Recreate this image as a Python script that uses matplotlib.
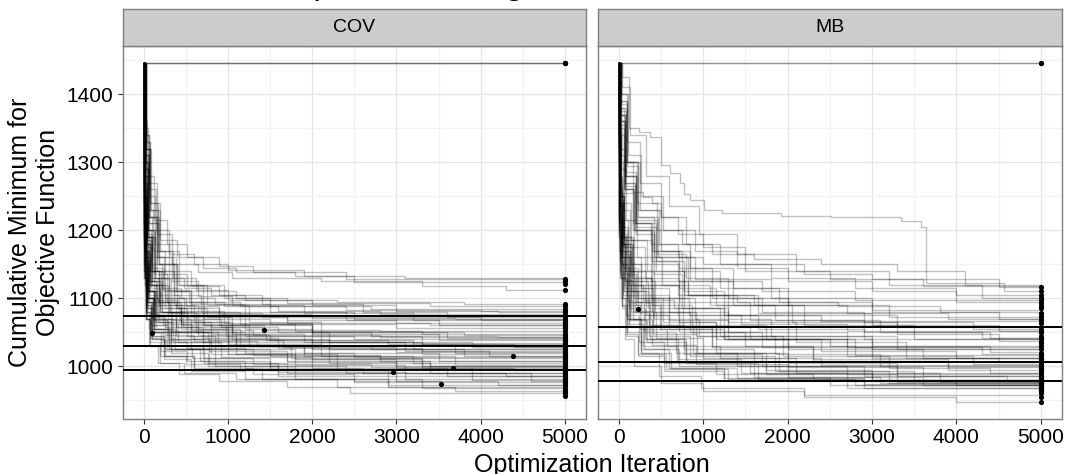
import matplotlib
matplotlib.use("Agg")
import matplotlib.pyplot as plt
from matplotlib.ticker import MultipleLocator

plt.rcParams['font.family'] = ['Liberation Sans', 'DejaVu Sans']

# cumulative minimum per run, (iteration, value) change points, COV
cov_runs = [
    [(0,1446),(5000,1446)],
    [(0,1446),(5000,1446)],
    [(0,1446),(5000,1446)],
    [(0,1446),(25,1340),(60,1260),(150,1200),(300,1165),(600,1150),(1000,1142),(1900,1133),(3100,1130),(5000,1129)],
    [(0,1446),(15,1360),(45,1280),(120,1215),(280,1180),(520,1160),(900,1148),(1300,1138),(2400,1128),(5000,1125)],
    [(0,1446),(30,1320),(85,1230),(200,1185),(400,1160),(700,1145),(1100,1138),(1800,1133),(2500,1124),(5000,1121)],
    [(0,1446),(20,1350),(55,1270),(160,1195),(340,1150),(650,1138),(1050,1130),(2100,1126),(3300,1118),(4300,1112),(5000,1112)],
    [(0,1446),(12,1300),(38,1220),(100,1160),(240,1130),(480,1115),(800,1105),(1200,1098),(2300,1094),(3800,1092),(5000,1092)],
    [(0,1446),(22,1320),(70,1210),(180,1150),(400,1120),(700,1110),(1100,1100),(1700,1093),(3400,1088),(5000,1088)],
    [(0,1446),(10,1280),(35,1200),(90,1150),(220,1115),(450,1100),(850,1092),(1500,1088),(2700,1084),(5000,1084)],
    [(0,1446),(28,1330),(75,1240),(170,1170),(350,1130),(620,1112),(1000,1098),(2000,1090),(3000,1081),(4200,1080),(5000,1080)],
    [(0,1446),(18,1290),(50,1190),(130,1140),(300,1110),(560,1095),(950,1088),(1600,1082),(2800,1077),(5000,1076)],
    [(0,1446),(15,1310),(48,1230),(115,1170),(260,1135),(520,1118),(900,1105),(1400,1092),(2600,1080),(3600,1073),(5000,1072)],
    [(0,1446),(8,1260),(30,1180),(75,1120),(180,1095),(400,1085),(750,1078),(1400,1072),(2500,1069),(5000,1068)],
    [(0,1446),(25,1300),(65,1220),(155,1160),(340,1125),(640,1103),(1050,1090),(1900,1078),(3200,1068),(5000,1065)],
    [(0,1446),(12,1270),(40,1190),(100,1130),(250,1100),(500,1088),(900,1076),(1700,1068),(3000,1063),(5000,1062)],
    [(0,1446),(20,1340),(60,1250),(140,1180),(300,1140),(560,1120),(950,1100),(1500,1080),(2400,1068),(3500,1060),(5000,1058)],
    [(0,1446),(10,1250),(32,1160),(80,1110),(200,1080),(420,1065),(800,1058),(1400,1054),(2800,1052),(5000,1052)],
    [(0,1446),(18,1300),(52,1200),(125,1135),(280,1095),(560,1075),(1000,1062),(1800,1052),(3300,1048),(5000,1047)],
    [(0,1446),(15,1280),(42,1190),(105,1120),(260,1085),(520,1070),(920,1058),(1600,1050),(2700,1045),(4200,1043),(5000,1043)],
    [(0,1446),(8,1240),(28,1150),(70,1100),(180,1070),(380,1058),(700,1050),(1200,1044),(2500,1040),(5000,1039)],
    [(0,1446),(22,1310),(65,1220),(160,1150),(360,1105),(680,1080),(1150,1062),(2000,1048),(3500,1038),(5000,1035)],
    [(0,1446),(12,1270),(38,1180),(90,1120),(220,1080),(450,1060),(800,1047),(1450,1038),(2900,1033),(5000,1032)],
    [(0,1446),(30,1330),(80,1240),(190,1170),(420,1120),(750,1090),(1250,1065),(2100,1045),(3300,1033),(4400,1029),(5000,1029)],
    [(0,1446),(4,1240),(13,1150),(33,1090),(90,1060),(250,1046),(600,1037),(1350,1030),(2700,1026),(5000,1025)],
    [(0,1446),(18,1290),(55,1200),(130,1130),(300,1090),(600,1065),(1050,1048),(1900,1035),(3200,1025),(5000,1021)],
    [(0,1446),(6,1270),(18,1170),(47,1110),(125,1070),(330,1050),(760,1038),(1650,1028),(3000,1021),(5000,1018)],
    [(0,1446),(25,1320),(72,1230),(175,1160),(380,1110),(700,1080),(1200,1055),(2000,1035),(3100,1022),(4100,1015),(5000,1014)],
    [(0,1446),(3,1230),(10,1140),(27,1080),(75,1050),(210,1035),(520,1027),(1200,1020),(2500,1014),(5000,1011)],
    [(0,1446),(5,1260),(16,1170),(40,1100),(110,1060),(290,1040),(700,1025),(1500,1015),(2800,1008),(5000,1006)],
    [(0,1446),(20,1300),(58,1200),(140,1130),(320,1080),(620,1050),(1100,1030),(1900,1015),(3200,1005),(5000,1002)],
    [(0,1446),(4,1240),(12,1150),(32,1085),(88,1045),(240,1025),(580,1012),(1300,1004),(2700,999),(5000,998)],
    [(0,1446),(6,1280),(19,1180),(50,1110),(135,1065),(350,1035),(800,1018),(1700,1006),(3000,998),(4400,995),(5000,995)],
    [(0,1446),(22,1310),(68,1210),(160,1140),(360,1090),(650,1055),(1150,1030),(2000,1010),(3300,998),(5000,992)],
    [(0,1446),(3,1220),(10,1130),(26,1070),(72,1035),(200,1015),(500,1003),(1150,995),(2400,990),(5000,989)],
    [(0,1446),(18,1290),(50,1190),(125,1120),(290,1070),(560,1040),(1000,1018),(1800,1002),(3100,990),(4300,986),(5000,985)],
    [(0,1446),(5,1260),(15,1160),(39,1095),(105,1050),(280,1025),(670,1008),(1500,995),(2900,985),(5000,982)],
    [(0,1446),(28,1320),(78,1220),(185,1150),(400,1095),(720,1060),(1250,1030),(2200,1005),(3400,990),(4600,979),(5000,978)],
    [(0,1446),(3,1220),(10,1130),(27,1070),(75,1030),(200,1005),(480,990),(1100,982),(2500,977),(5000,975)],
    [(0,1446),(6,1270),(18,1170),(46,1100),(125,1055),(330,1025),(780,1005),(1700,990),(3000,978),(4200,972),(5000,971)],
    [(0,1446),(6,1270),(18,1170),(46,1100),(125,1050),(320,1020),(760,1000),(1600,985),(2900,972),(5000,967)],
    [(0,1446),(5,1250),(14,1155),(36,1085),(95,1040),(240,1010),(560,993),(1200,982),(2300,970),(3700,963),(5000,962)],
    [(0,1446),(4,1240),(11,1140),(28,1070),(70,1030),(170,1005),(420,988),(900,978),(1700,970),(2450,961),(5000,957)],
    [(0,1446),(3,1300),(9,1210),(20,1160),(45,1120),(120,1095),(300,1080),(700,1070),(1500,1062),(3000,1057),(5000,1056)],
    [(0,1446),(4,1320),(11,1230),(25,1170),(60,1125),(150,1095),(380,1075),(900,1060),(2000,1050),(3800,1046),(5000,1046)],
    [(0,1446),(2,1280),(7,1190),(18,1130),(40,1095),(100,1072),(260,1058),(650,1046),(1500,1038),(3200,1034),(5000,1033)],
    [(0,1446),(5,1340),(14,1250),(32,1185),(75,1140),(180,1105),(420,1082),(950,1064),(2000,1050),(3600,1042),(5000,1040)],
    [(0,1446),(3,1290),(8,1200),(19,1140),(42,1100),(110,1070),(280,1050),(700,1036),(1600,1027),(3300,1023),(5000,1023)],
    [(0,1446),(6,1350),(16,1260),(38,1190),(90,1140),(210,1100),(480,1072),(1050,1050),(2200,1035),(3900,1028),(5000,1027)],
    [(0,1446),(2,1270),(6,1180),(15,1120),(35,1080),(90,1055),(230,1038),(560,1026),(1300,1017),(2800,1012),(5000,1010)],
    [(0,1446),(4,1310),(12,1220),(28,1160),(65,1110),(160,1075),(390,1050),(880,1032),(1900,1020),(3500,1008),(5000,1004)],
    [(0,1446),(3,1300),(10,1210),(23,1150),(52,1100),(130,1065),(330,1040),(780,1022),(1700,1008),(3400,1000),(5000,999)],
    [(0,1446),(5,1330),(15,1240),(34,1175),(80,1125),(190,1085),(450,1055),(1000,1033),(2100,1015),(3700,1002),(5000,993)],
    [(0,1446),(2,1260),(6,1170),(14,1110),(32,1070),(80,1042),(210,1022),(520,1008),(1200,997),(2600,990),(5000,987)],
    [(0,1446),(4,1310),(13,1220),(30,1155),(70,1105),(170,1065),(410,1035),(920,1013),(2000,997),(3600,986),(5000,981)],
    [(0,1446),(3,1280),(9,1190),(21,1130),(48,1085),(120,1050),(300,1025),(720,1005),(1600,992),(3100,981),(5000,977)],
    [(0,1446),(6,1340),(17,1250),(40,1180),(95,1125),(220,1080),(510,1045),(1100,1018),(2300,996),(3900,980),(5000,972)],
    [(0,1446),(2,1270),(7,1180),(17,1120),(38,1075),(95,1040),(240,1015),(600,996),(1400,982),(2900,970),(5000,965)],
    [(0,1446),(4,1300),(11,1210),(26,1145),(60,1095),(150,1055),(370,1025),(850,1000),(1800,982),(3300,968),(5000,960)],
    [(0,1446),(5,1330),(14,1245),(33,1180),(78,1130),(185,1090),(440,1062),(980,1045),(2100,1032),(3700,1020),(5000,1016)],
    [(0,1446),(3,1290),(8,1195),(20,1135),(46,1095),(115,1068),(290,1052),(700,1042),(1600,1035),(3300,1031),(5000,1030)],
    [(0,1446),(7,1360),(19,1270),(44,1195),(100,1145),(240,1112),(560,1092),(1200,1080),(2500,1072),(4000,1068),(5000,1067)],
    [(0,1446),(4,1320),(12,1230),(29,1170),(68,1125),(165,1098),(400,1085),(900,1077),(2000,1071),(3700,1070),(5000,1070)],
    [(0,1446),(3,1290),(9,1200),(22,1145),(50,1110),(125,1090),(310,1079),(750,1072),(1700,1064),(3400,1060),(5000,1060)],
    [(0,1446),(6,1340),(18,1250),(42,1185),(98,1140),(230,1110),(540,1095),(1150,1088),(2400,1083),(4000,1082),(5000,1082)],
    [(0,1446),(2,1270),(7,1185),(16,1130),(36,1095),(90,1075),(230,1062),(560,1053),(1300,1046),(2800,1043),(5000,1042)],
    [(0,1446),(5,1320),(15,1230),(36,1165),(85,1115),(200,1080),(470,1058),(1050,1040),(2200,1025),(3800,1015),(5000,1008)],
    [(0,1446),(3,1300),(10,1215),(24,1155),(55,1110),(135,1075),(340,1050),(800,1030),(1750,1012),(3300,1000),(5000,996)],
    # runs that stopped early
    [(0,1446),(3,1250),(10,1150),(30,1080),(60,1055),(100,1049)],
    [(0,1446),(6,1280),(18,1180),(45,1110),(120,1080),(320,1068),(700,1060),(1424,1054)],
    [(0,1446),(5,1260),(15,1170),(40,1100),(110,1055),(300,1030),(700,1012),(1500,1000),(2400,994),(2958,991)],
    [(0,1446),(4,1240),(12,1150),(32,1090),(90,1045),(250,1015),(600,998),(1300,988),(2500,978),(3527,974)],
    [(0,1446),(7,1290),(21,1190),(55,1120),(150,1075),(380,1045),(850,1025),(1800,1010),(3000,1000),(3670,998)],
    [(0,1446),(9,1310),(27,1210),(70,1140),(185,1095),(450,1065),(1000,1040),(2000,1025),(3300,1018),(4386,1015)],
]

# MB
mb_runs = [
    [(0,1446),(5000,1446)],
    [(0,1446),(5000,1446)],
    [(0,1446),(40,1425),(125,1350),(240,1345),(370,1337),(507,1296),(613,1284),(724,1269),(771,1254),(851,1245),
     (1008,1230),(1227,1225),(1918,1221),(2511,1219),(3342,1214),(3579,1205),(3638,1122),(4560,1110),(5000,1110)],
    [(0,1446),(10,1380),(60,1300),(175,1257),(293,1249),(396,1240),(500,1220),(700,1195),(1000,1175),(1500,1150),
     (2200,1135),(3000,1128),(4500,1116),(5000,1116)],
    [(0,1446),(25,1380),(90,1300),(220,1240),(450,1200),(750,1180),(1100,1165),(1600,1158),(2400,1150),(3300,1140),(4100,1120),(5000,1105)],
    [(0,1446),(15,1340),(60,1260),(170,1210),(380,1180),(700,1160),(1000,1150),(1500,1140),(2500,1128),(3600,1118),(5000,1100)],
    [(0,1446),(30,1400),(110,1310),(260,1250),(520,1200),(900,1170),(1400,1145),(2000,1125),(3000,1110),(4000,1095),(5000,1093)],
    [(0,1446),(18,1360),(70,1270),(190,1210),(400,1170),(720,1145),(1100,1125),(1700,1110),(2800,1098),(5000,1089)],
    [(0,1446),(4,1320),(15,1240),(45,1180),(130,1140),(330,1120),(700,1105),(1400,1095),(2600,1088),(3800,1080),(5000,1078)],
    [(0,1446),(20,1370),(80,1280),(200,1220),(420,1170),(750,1140),(1200,1115),(1900,1095),(3000,1083),(5000,1074)],
    [(0,1446),(5,1340),(18,1250),(55,1190),(150,1150),(380,1125),(820,1105),(1600,1090),(2700,1078),(3900,1070),(5000,1068)],
    [(0,1446),(25,1390),(95,1300),(230,1230),(480,1180),(850,1145),(1350,1115),(2000,1090),(3200,1072),(5000,1063)],
    [(0,1446),(3,1300),(12,1220),(38,1160),(110,1120),(290,1098),(650,1085),(1300,1075),(2400,1066),(5000,1058)],
    [(0,1446),(18,1350),(60,1260),(170,1200),(380,1155),(700,1125),(1100,1100),(1700,1080),(2900,1065),(4200,1055),(5000,1054)],
    [(0,1446),(22,1370),(85,1280),(220,1215),(450,1165),(800,1130),(1300,1100),(2000,1075),(3300,1058),(5000,1050)],
    [(0,1446),(4,1310),(14,1230),(42,1165),(120,1120),(310,1095),(700,1075),(1450,1062),(2700,1052),(5000,1045)],
    [(0,1446),(20,1360),(75,1270),(190,1200),(400,1150),(720,1115),(1150,1090),(1850,1068),(3100,1050),(4300,1042),(5000,1040)],
    [(0,1446),(8,1380),(32,1290),(85,1215),(215,1160),(510,1120),(1080,1090),(2050,1065),(3300,1048),(4500,1037),(5000,1036)],
    [(0,1446),(5,1330),(19,1245),(57,1180),(155,1130),(385,1100),(830,1075),(1650,1055),(2900,1040),(5000,1034)],
    [(0,1446),(28,1390),(100,1300),(250,1230),(500,1170),(850,1125),(1350,1090),(2200,1060),(3500,1040),(5000,1030)],
    [(0,1446),(3,1290),(11,1210),(35,1150),(100,1105),(265,1075),(600,1055),(1250,1040),(2500,1030),(5000,1025)],
    [(0,1446),(6,1350),(23,1255),(66,1190),(175,1140),(420,1100),(900,1070),(1800,1045),(3000,1030),(4400,1021),(5000,1020)],
    [(0,1446),(22,1375),(85,1285),(210,1210),(440,1155),(780,1110),(1250,1075),(2000,1045),(3300,1025),(5000,1015)],
    [(0,1446),(6,1340),(21,1250),(60,1185),(165,1130),(400,1090),(870,1060),(1750,1040),(3000,1025),(5000,1012)],
    [(0,1446),(4,1310),(15,1225),(44,1160),(125,1110),(320,1075),(720,1050),(1500,1030),(2800,1016),(5000,1010)],
    [(0,1446),(5,1330),(20,1240),(58,1175),(160,1120),(390,1080),(850,1050),(1700,1028),(3000,1012),(4500,1006),(5000,1006)],
    [(0,1446),(25,1385),(95,1295),(230,1220),(470,1160),(820,1105),(1300,1065),(2100,1035),(3400,1012),(5000,1002)],
    [(0,1446),(5,1320),(18,1240),(50,1175),(140,1125),(350,1085),(760,1058),(1550,1040),(2800,1028),(5000,1000)],
    [(0,1446),(3,1280),(10,1200),(32,1140),(95,1090),(250,1055),(570,1030),(1200,1012),(2400,1002),(5000,998)],
    [(0,1446),(6,1345),(24,1250),(68,1185),(180,1125),(430,1080),(920,1045),(1850,1018),(3100,1000),(5000,994)],
    [(0,1446),(20,1360),(75,1265),(200,1195),(420,1135),(750,1085),(1200,1045),(1950,1015),(3200,998),(4400,990),(5000,990)],
    [(0,1446),(4,1300),(13,1215),(40,1150),(115,1095),(300,1050),(680,1020),(1400,1000),(2700,988),(5000,985)],
    [(0,1446),(5,1320),(17,1235),(52,1170),(145,1110),(360,1060),(780,1025),(1600,1000),(2900,985),(5000,981)],
    [(0,1446),(22,1370),(80,1280),(210,1205),(440,1140),(780,1085),(1250,1040),(2000,1005),(3300,985),(4600,979),(5000,978)],
    [(0,1446),(3,1270),(10,1190),(30,1130),(90,1075),(240,1035),(540,1005),(1150,988),(2300,980),(5000,976)],
    [(0,1446),(6,1340),(22,1250),(63,1180),(170,1115),(410,1060),(880,1020),(1750,995),(3000,980),(5000,973)],
    [(0,1446),(4,1300),(14,1210),(42,1145),(120,1085),(310,1040),(700,1010),(1450,990),(2700,978),(4000,972),(5000,970)],
    [(0,1446),(20,1355),(72,1260),(185,1185),(400,1120),(720,1065),(1150,1020),(1900,993),(3200,975),(5000,967)],
    [(0,1446),(3,1280),(11,1195),(33,1130),(98,1070),(260,1025),(600,998),(1250,983),(2500,972),(5000,964)],
    [(0,1446),(5,1325),(18,1235),(55,1160),(150,1095),(370,1040),(800,1005),(1650,982),(2900,968),(5000,960)],
    [(0,1446),(4,1290),(12,1200),(36,1135),(105,1070),(270,1020),(480,985),(980,968),(2200,958),(5000,955)],
    [(0,1446),(2,1260),(8,1170),(25,1100),(70,1040),(180,1000),(500,976),(1000,963),(2200,955),(4000,948),(5000,947)],
    [(0,1446),(4,1330),(12,1250),(30,1190),(75,1140),(180,1100),(420,1070),(950,1045),(2000,1025),(3600,1012),(5000,1008)],
    [(0,1446),(3,1300),(9,1220),(22,1160),(55,1110),(135,1070),(330,1040),(780,1018),(1700,1000),(3300,990),(5000,986)],
    [(0,1446),(6,1360),(18,1280),(45,1215),(110,1160),(260,1115),(600,1080),(1300,1050),(2700,1028),(4300,1018),(5000,1017)],
    [(0,1446),(2,1280),(7,1200),(18,1140),(42,1090),(105,1050),(260,1020),(620,998),(1400,983),(2900,974),(5000,971)],
    [(0,1446),(5,1340),(15,1260),(38,1195),(90,1140),(215,1095),(500,1058),(1100,1030),(2300,1008),(3900,995),(5000,992)],
    [(0,1446),(3,1310),(10,1230),(25,1170),(60,1120),(150,1080),(360,1045),(850,1015),(1850,993),(3500,980),(5000,975)],
    [(0,1446),(8,1390),(24,1310),(60,1240),(145,1185),(340,1140),(780,1105),(1650,1078),(3000,1060),(4500,1052),(5000,1051)],
    [(0,1446),(4,1320),(13,1240),(32,1180),(78,1125),(190,1080),(440,1042),(1000,1012),(2100,990),(3800,977),(5000,973)],
    [(0,1446),(2,1270),(6,1190),(15,1130),(36,1085),(90,1045),(225,1015),(540,993),(1250,978),(2700,968),(5000,963)],
    [(0,1446),(5,1350),(16,1265),(40,1200),(95,1145),(225,1100),(520,1065),(1150,1040),(2400,1022),(4000,1012),(5000,1011)],
    [(0,1446),(3,1300),(10,1220),(24,1160),(58,1110),(140,1068),(340,1035),(800,1008),(1750,988),(3300,977),(5000,974)],
    [(0,1446),(7,1380),(22,1300),(55,1230),(130,1175),(310,1130),(720,1095),(1550,1068),(2900,1050),(4400,1042),(5000,1041)],
    [(0,1446),(4,1320),(12,1235),(29,1170),(70,1115),(170,1070),(400,1032),(920,1003),(2000,984),(3600,972),(5000,968)],
    [(0,1446),(3,1290),(9,1210),(21,1150),(50,1100),(125,1058),(300,1025),(720,1000),(1600,984),(3100,976),(5000,976)],
    [(0,1446),(6,1355),(18,1275),(46,1205),(110,1150),(260,1105),(600,1068),(1300,1040),(2700,1015),(4200,1003),(5000,1003)],
    [(0,1446),(30,1400),(100,1330),(250,1270),(500,1220),(800,1180),(1200,1150),(1800,1130),(2800,1115),(4000,1105),(5000,1098)],
    [(0,1446),(40,1410),(130,1340),(320,1280),(600,1235),(950,1195),(1400,1165),(2100,1140),(3200,1120),(4300,1100),(5000,1085)],
    [(0,1446),(9,1390),(30,1320),(75,1255),(180,1200),(420,1160),(900,1128),(1800,1100),(3000,1080),(4500,1070),(5000,1070)],
    [(0,1446),(4,1320),(12,1240),(30,1180),(72,1125),(175,1082),(410,1048),(930,1020),(2000,999),(3600,985),(5000,982)],
    [(0,1446),(3,1300),(8,1215),(20,1155),(48,1105),(120,1062),(290,1030),(690,1006),(1550,990),(3000,980),(5000,977)],
    [(0,1446),(5,1340),(15,1255),(37,1190),(88,1135),(210,1090),(490,1055),(1100,1028),(2300,1010),(3900,999),(5000,996)],
    [(0,1446),(2,1275),(6,1195),(16,1135),(38,1088),(95,1048),(235,1018),(560,996),(1300,982),(2800,972),(5000,966)],
    # run that stopped early
    [(0,1446),(5,1330),(20,1240),(60,1170),(130,1110),(230,1084)],
]

cov_hlines = [1074, 1030, 995]
mb_hlines = [1058, 1007, 978]

panels = ['COV', 'MB']
x_ticks = [0, 1000, 2000, 3000, 4000, 5000]
y_ticks = [1000, 1100, 1200, 1300, 1400]

W, H = 1065, 474
fig = plt.figure(figsize=(W / 100, H / 100), dpi=100)

def px(l, t, r, b):
    return [l / W, 1 - b / H, (r - l) / W, (b - t) / H]

ax1 = fig.add_axes(px(122.5, 46, 586, 419))
ax2 = fig.add_axes(px(597.5, 46, 1062, 419), sharey=ax1)

for ax, runs, hl, name, strip_l, strip_r in [(ax1, cov_runs, cov_hlines, panels[0], 122.5, 586),
                                              (ax2, mb_runs, mb_hlines, panels[1], 597.5, 1062)]:
    for run in runs:
        xs = [p[0] for p in run]
        ys = [p[1] for p in run]
        ax.plot(xs, ys, drawstyle='steps-post', color='black', alpha=0.24, lw=1.0, zorder=2)
        ax.scatter([xs[-1]], [ys[-1]], s=14, color='black', zorder=4, linewidths=0)
    for v in hl:
        ax.axhline(v, color='black', lw=1.4, zorder=3)

    ax.set_xlim(-250, 5250)
    ax.set_ylim(922.5, 1471)
    ax.xaxis.set_major_locator(MultipleLocator(1000))
    ax.xaxis.set_minor_locator(MultipleLocator(500))
    ax.yaxis.set_major_locator(MultipleLocator(100))
    ax.yaxis.set_minor_locator(MultipleLocator(50))
    ax.grid(which='major', color='#E5E5E5', lw=0.9, zorder=0)
    ax.grid(which='minor', color='#F2F2F2', lw=0.9, zorder=0)
    ax.set_axisbelow(True)
    for s in ax.spines.values():
        s.set_color('#7F7F7F')
        s.set_linewidth(1.0)
    ax.tick_params(which='minor', length=0)
    ax.tick_params(which='major', length=3.6, width=0.8, color='#333333',
                   labelsize=15, pad=3)
    ax.set_xticks(x_ticks)

    sax = fig.add_axes(px(strip_l, 9, strip_r, 46))
    sax.set_facecolor('#CCCCCC')
    sax.set_xticks([])
    sax.set_yticks([])
    for s in sax.spines.values():
        s.set_color('#7F7F7F')
        s.set_linewidth(1.0)
    sax.text(0.5, 0.5, name, ha='center', va='center', fontsize=14, transform=sax.transAxes)

ax1.set_yticks(y_ticks)
ax2.tick_params(axis='y', which='both', left=False, labelleft=False)

fig.text(592 / W, 1 - 472 / H, 'Optimization Iteration', ha='center', va='baseline', fontsize=18)
fig.text(34 / W, 1 - 232 / H, 'Cumulative Minimum for\nObjective Function', ha='center', va='center',
         rotation=90, fontsize=18, linespacing=1.2)
# title sits mostly above the canvas, only descenders show
fig.text(240 / W, 1 + 5.6 / H, 'Comparison of Algorithm Performance', ha='left', va='baseline', fontsize=25)

fig.savefig('out.png', dpi=100)
